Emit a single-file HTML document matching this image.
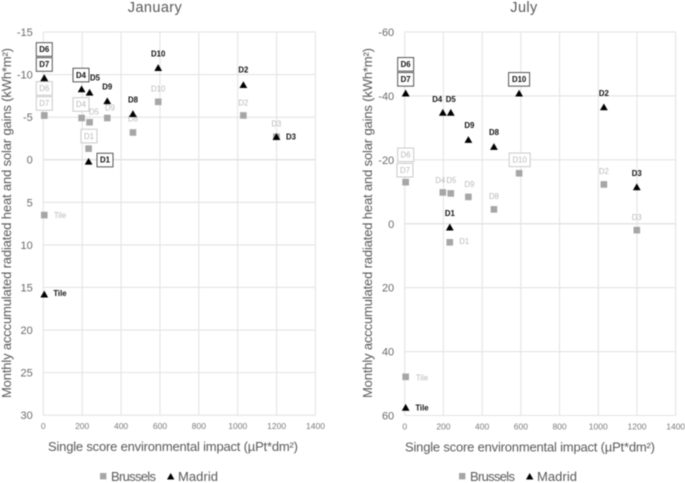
<!DOCTYPE html>
<html lang="en">
<head>
<meta charset="utf-8">
<title>January and July heat gains versus environmental impact</title>
<style>
html,body{margin:0;padding:0;background:#fff;width:685px;height:483px;overflow:hidden}
svg{display:block;filter:blur(0.4px)}
text{font-family:"Liberation Sans",sans-serif}
</style>
</head>
<body>
<svg id="figure" xmlns="http://www.w3.org/2000/svg" width="685" height="483" viewBox="0 0 685 483"></svg>
<script>
// ---- Data ----
const categories = ['Tile','D1','D2','D3','D4','D5','D6','D7','D8','D9','D10'];
const impactValues = [5,233,1029,1199,197,238,5,5,461,329,591];
const xTicks = [0,200,400,600,800,1000,1200,1400];
const janYTicks = [-15,-10,-5,0,5,10,15,20,25,30];
const julYTicks = [-60,-40,-20,0,20,40,60];
const janBrussels = [6.5,-1.3,-5.2,-2.7,-4.9,-4.4,-5.2,-5.2,-3.2,-4.9,-6.8];
const janMadrid = [15.8,0.2,-8.8,-2.7,-8.3,-7.9,-9.6,-9.6,-5.4,-6.9,-10.8];
const julBrussels = [47.9,5.8,-12.3,2,-9.8,-9.5,-13,-13,-4.5,-8.4,-15.8];
const julMadrid = [57.5,1.1,-36.5,-11.5,-34.8,-34.8,-40.8,-40.8,-24.1,-26.3,-40.8];

// ---- Label layout (offset from the marker, same order as categories) ----
const janBrusselsLabelDx = [15.7,0.4,0,0,-0.6,4.4,0,0,0,2.7,0];
const janBrusselsLabelDy = [0,-12.6,-12.5,-12.7,-13.5,-10.3,-27,-12,-13.5,-10,-12.8];
const janMadridLabelDx = [15.7,16.4,0,14.6,-0.6,5.4,0,0,0,0,0];
const janMadridLabelDy = [-1,-1.4,-15,0,-14,-14.5,-28.5,-13.5,-13.7,-14,-13.8];
const julBrusselsLabelDx = [16.3,14.4,0,0,-2.6,0.6,0,-0.7,0,1,0.6];
const julBrusselsLabelDy = [1.2,-1,-13,-13,-12,-13,-27.4,-12,-13,-12.6,-13.4];
const julMadridLabelDx = [16.3,0,0,0,-5.6,0,0,0,0,1,0];
const julMadridLabelDy = [0.5,-14,-13.7,-13.7,-13,-13,-29,-14,-14.4,-14.3,-14];
const janBrusselsBoxed = ['D1','D4','D6','D7'];
const janMadridBoxed = ['D1','D4','D6','D7'];
const julBrusselsBoxed = ['D6','D7','D10'];
const julMadridBoxed = ['D6','D7','D10'];

const NS = 'http://www.w3.org/2000/svg';
const root = document.getElementById('figure');

function make(tag, attrs, parent, content) {
  const el = document.createElementNS(NS, tag);
  for (const k in attrs) el.setAttribute(k, attrs[k]);
  if (content !== undefined) el.textContent = content;
  parent.appendChild(el);
  return el;
}

function drawSeries(group, prefix, kind, xs, ys, dxs, dys, boxed, sx, sy) {
  const markColor = kind === 'brussels' ? '#a6a6a6' : '#000000';
  const labelColor = kind === 'brussels' ? '#b8b8b8' : '#111111';
  const boxColor = kind === 'brussels' ? '#c4c4c4' : '#444444';
  categories.forEach(function (cat, i) {
    const px = sx(xs[i]);
    const py = sy(ys[i]);
    let mark;
    if (kind === 'brussels') {
      mark = make('rect', {x: px - 3.3, y: py - 3.3, width: 6.6, height: 6.6, fill: markColor}, group);
    } else {
      mark = make('polygon', {points: (px - 3.9) + ',' + (py + 3.2) + ' ' + px + ',' + (py - 3.6) + ' ' + (px + 3.9) + ',' + (py + 3.2), fill: markColor}, group);
    }
    
    
    const lx = px + dxs[i];
    const ly = py + dys[i];
    if (boxed.indexOf(cat) >= 0) {
      const w = cat === 'D10' ? 21 : 16;
      const box = make('rect', {x: lx - w / 2, y: ly - 6.8, width: w, height: 13.6, fill: '#ffffff', stroke: boxColor, 'stroke-width': 0.9}, group);
      
      
    }
    const label = make('text', {
      x: lx, y: ly + 2.7, 'text-anchor': 'middle', 'font-size': 7.8,
      'font-weight': kind === 'brussels' ? 'normal' : 'bold', fill: labelColor
    }, group, cat);
    
    
  });
}

function drawChart(c) {
  const g = make('g', {}, root);
  
  
  const sx = function (v) { return c.x0 + (v - 0) * (c.x1 - c.x0) / 1400; };
  const yMin = c.yTicks[0];
  const yMax = c.yTicks[c.yTicks.length - 1];
  const sy = function (v) { return c.yTop + (v - yMin) * (c.yBottom - c.yTop) / (yMax - yMin); };

  const title = make('text', {x: c.titleX, y: 12, 'text-anchor': 'middle', 'font-size': 14.5, fill: '#595959', 'letter-spacing': 0.4}, g, c.title);
  
  

  c.yTicks.forEach(function (t) {
    const line = make('line', {x1: c.x0, x2: c.x1, y1: sy(t), y2: sy(t), stroke: '#e4e4e4', 'stroke-width': t === 0 ? 1.6 : 1.1}, g);
    
    
    const lab = make('text', {x: c.x0 - 10.5, y: sy(t) + 4, 'text-anchor': 'end', 'font-size': 11, fill: '#6a6a6a'}, g, String(t));
    
    
  });
  xTicks.forEach(function (t) {
    const line = make('line', {x1: sx(t), x2: sx(t), y1: c.yTop, y2: c.yBottom, stroke: '#e4e4e4', 'stroke-width': 1.1}, g);
    
    
    const lab = make('text', {x: sx(t), y: c.yBottom + 14, 'text-anchor': 'middle', 'font-size': 8.5, fill: '#7a7a7a'}, g, String(t));
    
    
  });

  const xTitle = make('text', {x: c.xTitleX, y: c.yBottom + 36, 'text-anchor': 'middle', 'font-size': 13, fill: '#595959', textLength: 250, lengthAdjust: 'spacing'}, g);
  
  
  make('tspan', {}, xTitle, 'Single score environmental impact (µPt*dm²)');

  const yTitle = make('text', {transform: 'translate(' + c.yTitleX + ',223) rotate(-90)', 'text-anchor': 'middle', 'font-size': 13, fill: '#595959', textLength: 350, lengthAdjust: 'spacing'}, g, 'Monthly acccumulated radiated heat and solar gains (kWh*m²)');
  
  

  drawSeries(g, c.id + '-brussels', 'brussels', impactValues, c.brussels, c.bDx, c.bDy, c.bBoxed, sx, sy);
  drawSeries(g, c.id + '-madrid', 'madrid', impactValues, c.madrid, c.mDx, c.mDy, c.mBoxed, sx, sy);

  const lx = c.legendX;
  const s = make('rect', {x: lx, y: 473, width: 6.4, height: 6.4, fill: '#a6a6a6'}, g);
  
  
  const t1 = make('text', {x: lx + 11, y: 481, 'font-size': 13, fill: '#595959', textLength: 45, lengthAdjust: 'spacing'}, g, 'Brussels');
  
  
  const tri = make('polygon', {points: (lx + 67) + ',479.5 ' + (lx + 70.7) + ',473 ' + (lx + 74.4) + ',479.5', fill: '#000000'}, g);
  
  
  const t2 = make('text', {x: lx + 78, y: 481, 'font-size': 13, fill: '#595959', textLength: 40, lengthAdjust: 'spacing'}, g, 'Madrid');
  
  
}

drawChart({
  id: 'january', title: 'January', titleX: 155,
  x0: 43.3, x1: 315.5, yTop: 32, yBottom: 415.2,
  yTicks: janYTicks, xTitleX: 173, yTitleX: 11, legendX: 100,
  brussels: janBrussels, madrid: janMadrid,
  bDx: janBrusselsLabelDx, bDy: janBrusselsLabelDy, mDx: janMadridLabelDx, mDy: janMadridLabelDy,
  bBoxed: janBrusselsBoxed, mBoxed: janMadridBoxed
});
drawChart({
  id: 'july', title: 'July', titleX: 524,
  x0: 404.7, x1: 675.7, yTop: 32, yBottom: 415.5,
  yTicks: julYTicks, xTitleX: 530, yTitleX: 372, legendX: 459,
  brussels: julBrussels, madrid: julMadrid,
  bDx: julBrusselsLabelDx, bDy: julBrusselsLabelDy, mDx: julMadridLabelDx, mDy: julMadridLabelDy,
  bBoxed: julBrusselsBoxed, mBoxed: julMadridBoxed
});
</script>
</body>
</html>
